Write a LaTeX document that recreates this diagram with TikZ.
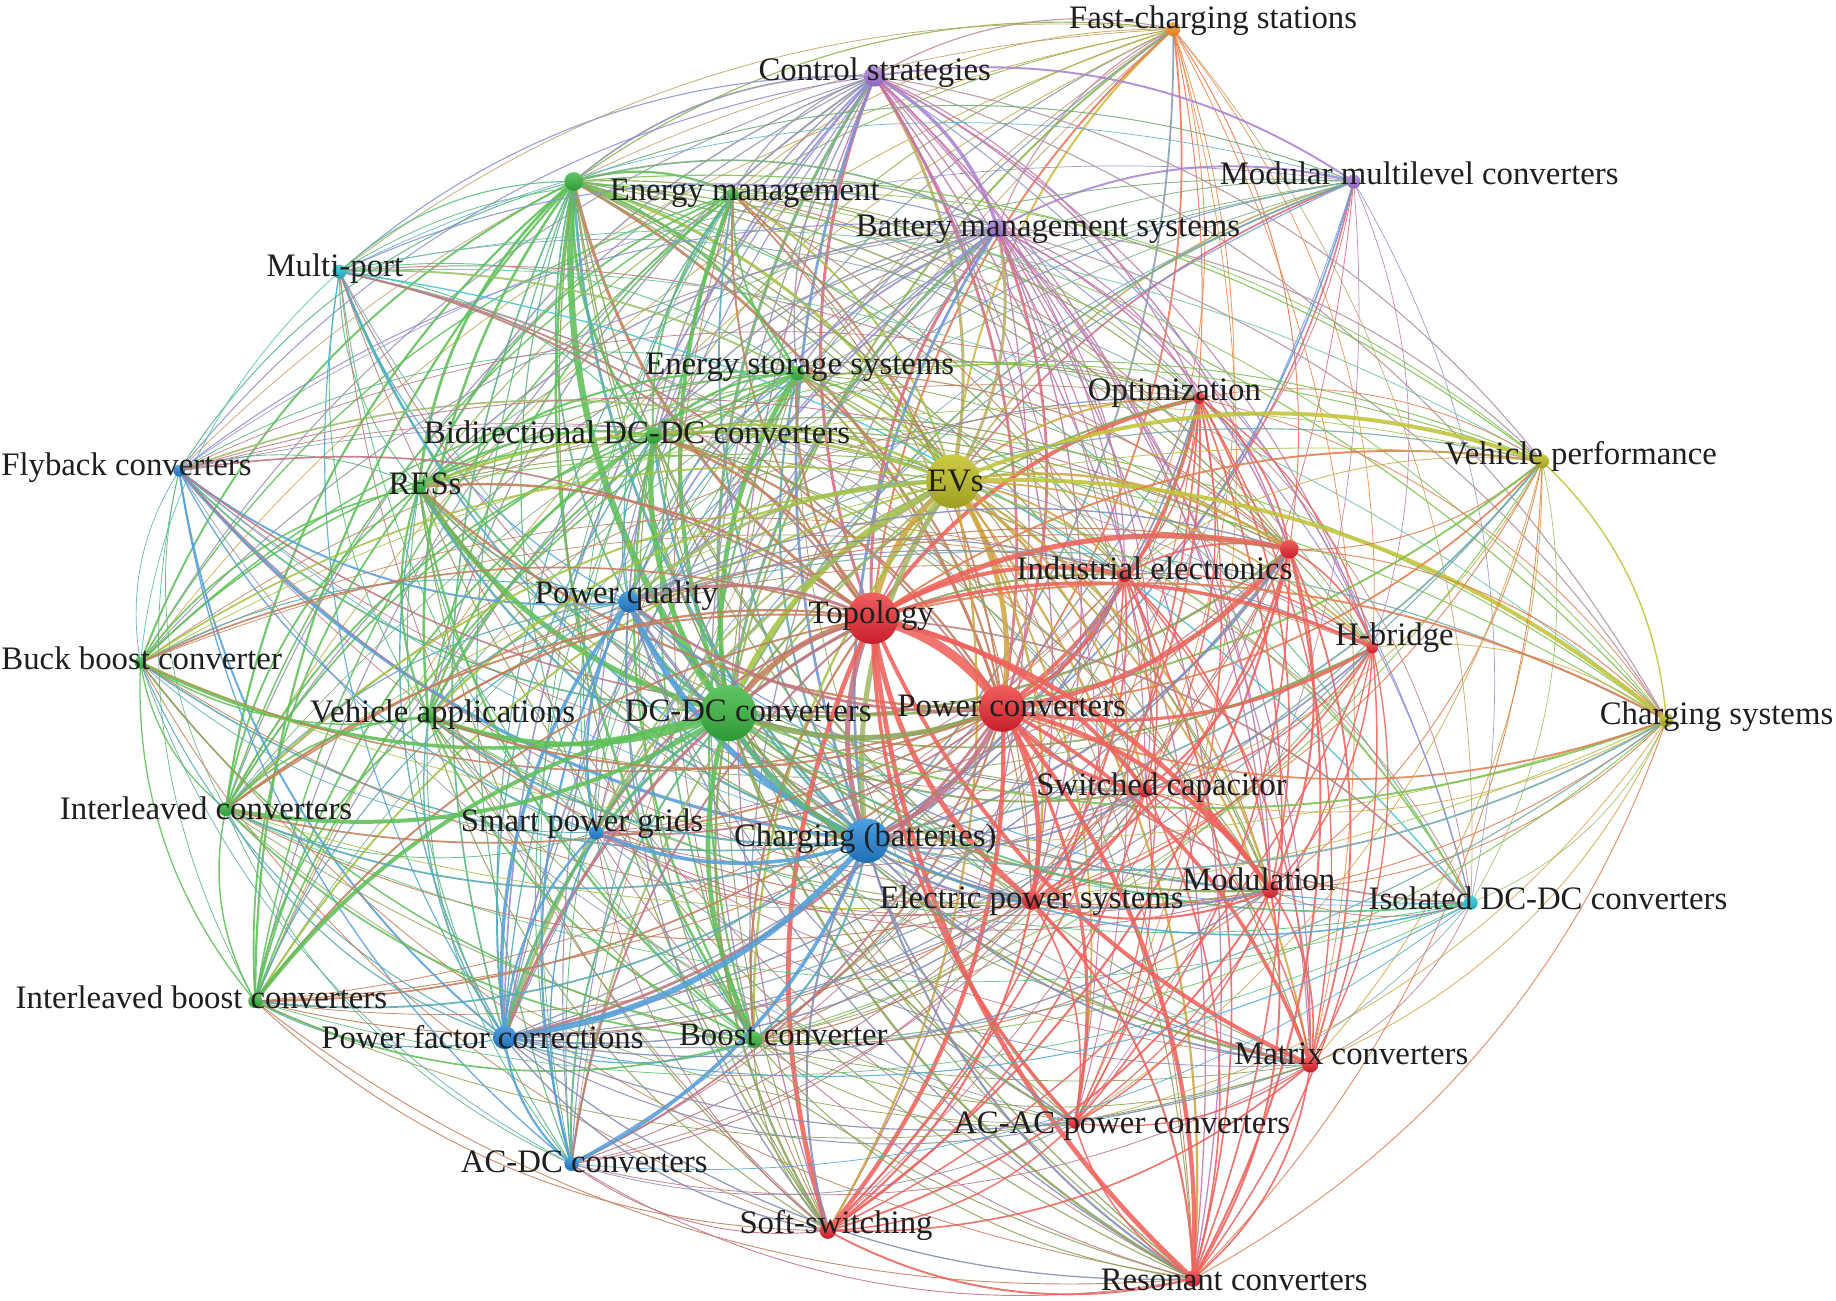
\documentclass[tikz,border=0pt]{standalone}
\usepackage{fontspec}
\setmainfont{Liberation Serif}
\usetikzlibrary{shadings}
\definecolor{eR}{HTML}{EE625C}
\definecolor{eG}{HTML}{5FC059}
\definecolor{eB}{HTML}{559FDA}
\definecolor{eY}{HTML}{C2C43A}
\definecolor{eP}{HTML}{AC82D2}
\definecolor{eC}{HTML}{45C2D2}
\definecolor{eO}{HTML}{F29A3A}
\definecolor{nRT}{HTML}{F06060}\definecolor{nRB}{HTML}{C81E2A}
\definecolor{nGT}{HTML}{62C462}\definecolor{nGB}{HTML}{2E9A36}
\definecolor{nBT}{HTML}{4C9FE0}\definecolor{nBB}{HTML}{1F6FB5}
\definecolor{nYT}{HTML}{CDCB45}\definecolor{nYB}{HTML}{9E9E22}
\definecolor{nPT}{HTML}{B898DC}\definecolor{nPB}{HTML}{8C64BC}
\definecolor{nCT}{HTML}{50D0DC}\definecolor{nCB}{HTML}{1CA8B8}
\definecolor{nOT}{HTML}{F8A850}\definecolor{nOB}{HTML}{E57A1C}
\tikzset{
  lab/.style={font=\fontsize{28}{30}\selectfont, text=black!88, inner sep=0pt},
  kwnode/.style={circle, inner sep=0pt, draw=none}
}
\begin{document}
\begin{tikzpicture}[x=1pt,y=-1pt]
\fill[white] (0,0) rectangle (1568,1111);
\useasboundingbox (0,0) rectangle (1568,1111);
% node data: index/x/y/radius/cluster/colour/weight
\foreach \i/\x/\y/\r/\k/\c/\w in {
1/1002/25/6/7/O/1.5, 2/747/65/9/5/P/2.5, 3/1156/155/6/5/P/1.3,
4/490/155/8/2/G/2.5, 5/626/166/5/2/G/1.5, 6/852/195/8/5/P/2.5,
7/290/232/6/6/C/1.5, 8/681/319/6/2/G/1.8, 9/1024/340/5/1/R/1.5,
10/558/372/7/2/G/2, 11/153/402/5/3/B/1.3, 12/358/416/6/2/G/2,
13/814/411/23/4/Y/5, 14/1317/394/6/4/Y/1.5, 15/1101/469/8/1/R/2,
16/960/491/6/1/R/1.5, 17/1172/553/5/1/R/1.3, 18/537/514/9/3/B/2.5,
19/745/528/22/1/R/5, 20/120/566/5/2/G/1.3, 21/622/609/24/2/G/5,
22/856/605/20/1/R/4.5, 23/366/612/6/2/G/1.8, 24/1423/615/6/4/Y/1.5,
25/978/675/6/1/R/1.5, 26/193/691/6/2/G/1.5, 27/509/711/6/3/B/1.5,
28/740/718/19/3/B/4.5, 29/1085/760/7/1/R/1.8, 30/881/769/8/1/R/2,
31/1256/771/6/6/C/1.3, 32/218/855/6/2/G/1.5, 33/431/886/10/3/B/2.5,
34/644/888/7/2/G/1.8, 35/1119/909/7/1/R/1.5, 36/918/959/5/1/R/1.3,
37/488/994/6/3/B/1.5, 38/707/1051/7/1/R/1.8, 39/1019/1092/7/1/R/1.8}{
  \coordinate (n\i) at (\x,\y);
  \expandafter\xdef\csname NX\i\endcsname{\x}
  \expandafter\xdef\csname NY\i\endcsname{\y}
  \expandafter\xdef\csname NR\i\endcsname{\r}
  \expandafter\xdef\csname NK\i\endcsname{\k}
  \expandafter\xdef\csname NC\i\endcsname{\c}
  \expandafter\xdef\csname NW\i\endcsname{\w}
}
% connectors
\foreach \i in {1,...,38}{
  \pgfmathtruncatemacro\js{\i+1}
  \foreach \j in {\js,...,39}{
    \edef\xa{\csname NX\i\endcsname}\edef\ya{\csname NY\i\endcsname}
    \edef\xb{\csname NX\j\endcsname}\edef\yb{\csname NY\j\endcsname}
    \edef\ka{\csname NK\i\endcsname}\edef\kb{\csname NK\j\endcsname}
    \edef\ca{\csname NC\i\endcsname}\edef\cb{\csname NC\j\endcsname}
    \edef\wa{\csname NW\i\endcsname}\edef\wb{\csname NW\j\endcsname}
    \ifnum\ka=\kb\relax \def\same{1}\else\def\same{0}\fi
    \pgfmathtruncatemacro\rr{mod(\i*7+\j*11,5)}
    \pgfmathtruncatemacro\ok{(\same==1)||(\wa*\wb>=3)||(\rr>1)}
    \ifnum\ok=1\relax
      \pgfmathsetmacro\lw{min(8,0.3+0.18*\wa*\wb*(1+1.3*\same))}
      \pgfmathsetmacro\dx{\xb-\xa}
      \pgfmathsetmacro\dy{\yb-\ya}
      \pgfmathsetmacro\dt{(-\dy/100)*(((\xa+\xb)/2-780)/100)+(\dx/100)*(((\ya+\yb)/2-560)/100)}
      \ifdim\dt pt>0pt \def\sg{1}\else\def\sg{-1}\fi
      \pgfmathsetmacro\px{-\dy*0.13*\sg}
      \pgfmathsetmacro\py{\dx*0.13*\sg}
      \pgfmathsetmacro\ax{\xa+\dx/3+\px}
      \pgfmathsetmacro\ay{\ya+\dy/3+\py}
      \pgfmathsetmacro\bx{\xa+2*\dx/3+\px}
      \pgfmathsetmacro\by{\ya+2*\dy/3+\py}
      \ifdim\wa pt<\wb pt \edef\mix{e\cb!70!e\ca}\else\edef\mix{e\ca!70!e\cb}\fi
      \draw[line width=\lw pt, draw=\mix, draw opacity=0.88] (n\i) .. controls (\ax,\ay) and (\bx,\by) .. (n\j);
    \fi
  }
}
% nodes
\foreach \i in {1,...,39}{
  \edef\rr{\csname NR\i\endcsname}
  \edef\cc{\csname NC\i\endcsname}
  \pgfmathsetmacro\dd{2*\rr}
  \node[kwnode, minimum size=\dd pt, top color=n\cc T, bottom color=n\cc B] (c\i) at (n\i) {};
}
% labels
\foreach \i/\lx/\ly/\t in {
1/1036/18/Fast-charging stations,
2/747/62/Control strategies,
3/1212/148/Modular multilevel converters,
5/636/165/Energy management,
6/895/196/Battery management systems,
7/286/229/Multi-port,
8/683/314/Energy storage systems,
9/1003/336/Optimization,
10/544/369/Bidirectional DC-DC converters,
11/108/399/Flyback converters,
12/363/413/RESs,
13/816/411/EVs,
14/1350/390/Vehicle performance,
16/986/485/Industrial electronics,
17/1191/545/H-bridge,
18/535/509/Power quality,
19/744/526/Topology,
20/121/562/Buck boost converter,
21/639/607/DC-DC converters,
22/864/603/Power converters,
23/378/610/Vehicle applications,
24/1466/612/Charging systems,
25/992/673/Switched capacitor,
26/176/690/Interleaved converters,
27/497/703/Smart power grids,
28/739/716/Charging (batteries),
29/1075/751/Modulation,
30/881/769/Electric power systems,
31/1322/767/Isolated DC-DC converters,
32/172/852/Interleaved boost converters,
33/412/886/Power factor corrections,
34/669/884/Boost converter,
35/1154/900/Matrix converters,
36/958/962/AC-AC power converters,
37/499/992/AC-DC converters,
38/714/1047/Soft-switching,
39/1054/1093/Resonant converters}{
  \node[lab] (l\i) at (\lx,\ly) {\t};
}
\end{tikzpicture}
\end{document}
